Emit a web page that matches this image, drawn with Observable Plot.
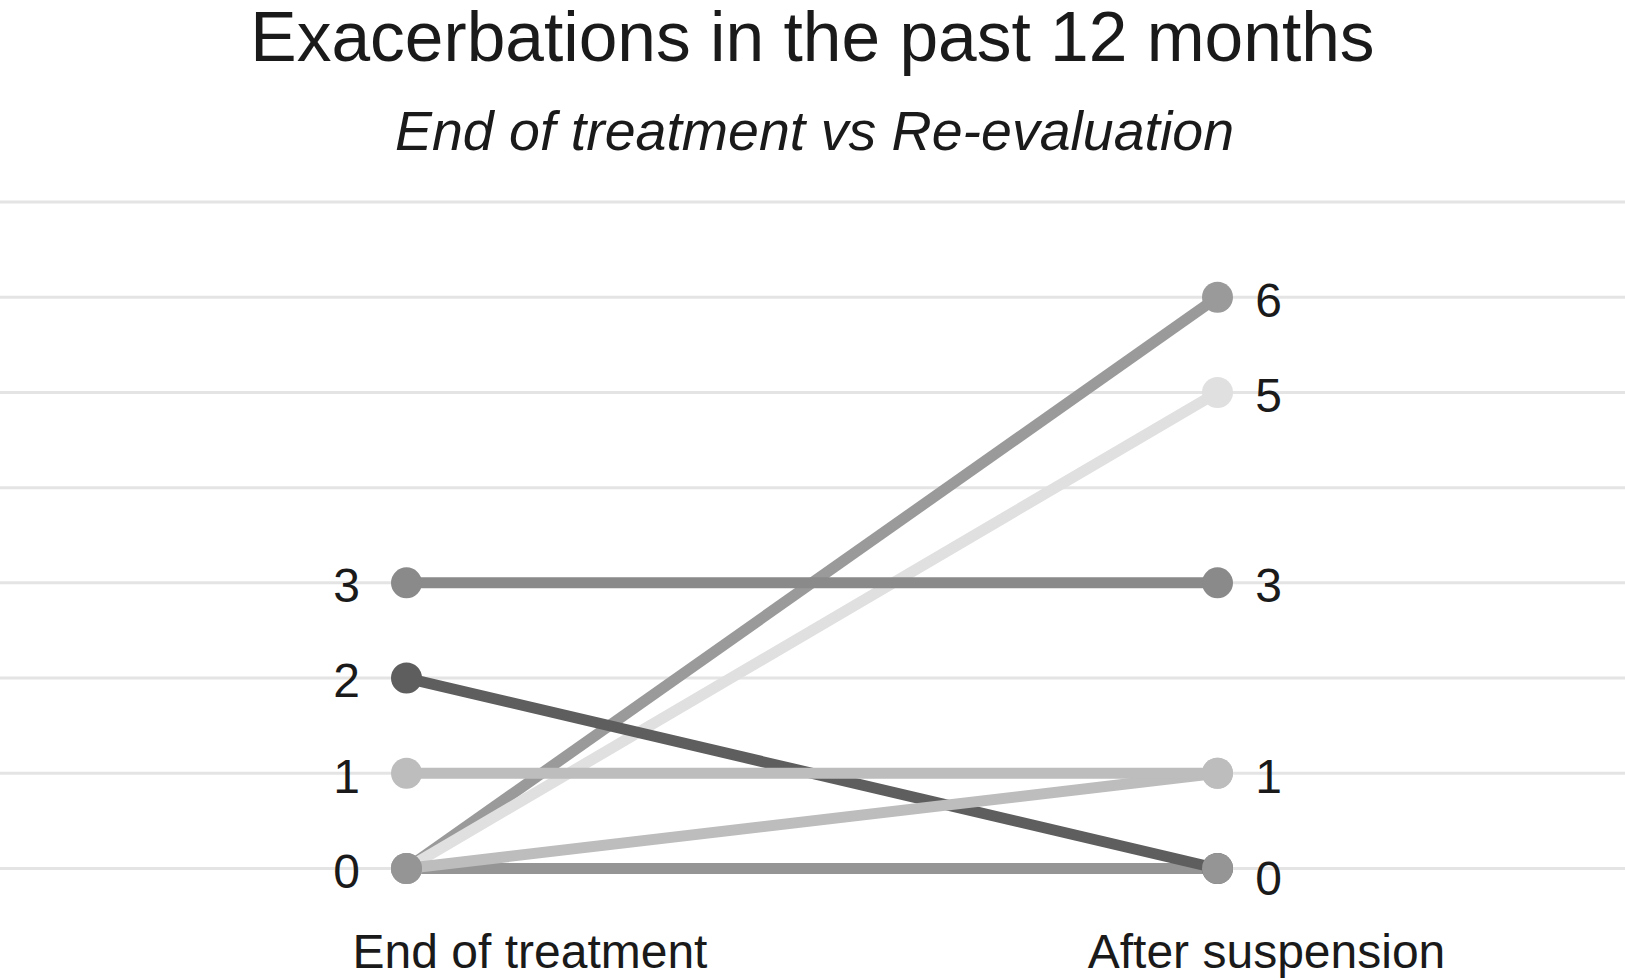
<!DOCTYPE html>
<html>
<head>
<meta charset="utf-8">
<script src="https://cdn.jsdelivr.net/npm/d3@7"></script>
<script src="https://cdn.jsdelivr.net/npm/@observablehq/plot@0.6"></script>
<style>
  html, body { margin: 0; padding: 0; background: #fff; }
  body { width: 1625px; height: 980px; overflow: hidden; font-family: "Liberation Sans", Arial, Helvetica, sans-serif; color: #1a1a1a; }
  #header { position: relative; height: 170px; width: 1625px; }
  #title { position: absolute; left: 0; width: 1625px; top: 3px; text-align: center; font-size: 69.5px; line-height: 1; }
  #subtitle { position: absolute; left: 2px; width: 1625px; top: 104px; text-align: center; font-size: 55.5px; line-height: 1; font-style: italic; }
  svg { display: block; }
</style>
</head>
<body>
<div id="header">
  <div id="title">Exacerbations in the past 12 months</div>
  <div id="subtitle">End of treatment vs Re-evaluation</div>
</div>
<div id="chart"></div>
<script>
// ---- data ----
const periods = ["End of treatment", "After suspension"];
const patients = ["P1", "P2", "P3", "P4", "P5", "P6", "P7"];
const endValues = [0, 0, 0, 2, 0, 1, 3];
const afterValues = [0, 6, 5, 0, 1, 1, 3];
const gridValues = [0, 1, 2, 3, 4, 5, 6, 7];

// ---- styles ----
const lineColors = ["#959595", "#9a9a9a", "#e0e0e0", "#5e5e5e", "#bdbdbd", "#bdbdbd", "#8a8a8a"];

const rows = patients.map((p, i) => ({patient: p, end: endValues[i], after: afterValues[i], color: lineColors[i]}));
const dotsLeft = rows.map(r => ({period: periods[0], value: r.end, color: r.color})).reverse();
const dotsRight = rows.map(r => ({period: periods[1], value: r.after, color: r.color})).reverse();
const leftLabels = Array.from(new Set(endValues));
const rightLabels = Array.from(new Set(afterValues));

const W = 1625, H = 810;
const chart = Plot.plot({
  width: W,
  height: H,
  marginLeft: 0, marginRight: 0, marginTop: 0, marginBottom: 0,
  style: {fontFamily: '"Liberation Sans", Arial, Helvetica, sans-serif', color: "#1a1a1a", background: "#fff"},
  x: {type: "point", domain: periods, range: [406, 1217], padding: 0, align: 0.5, axis: null},
  y: {domain: [0, 7], range: [698, 31.5], axis: null},
  color: {type: "identity"},
  marks: [
    Plot.ruleY(gridValues, {stroke: "#e4e4e4", strokeWidth: 3}),
    Plot.link(rows, {
      x1: () => periods[0], y1: "end",
      x2: () => periods[1], y2: "after",
      stroke: "color", strokeWidth: 11, strokeOpacity: 1
    }),
    Plot.dot(dotsLeft, {x: "period", y: "value", r: 15.5, fill: "color", stroke: "none"}),
    Plot.dot(dotsRight, {x: "period", y: "value", r: 15.5, fill: "color", stroke: "none"}),
    Plot.text(leftLabels, {x: () => periods[0], y: d => d, text: d => String(d), dx: -60, dy: 4, fontSize: 48, fill: "#1a1a1a"}),
    Plot.text(rightLabels.filter(d => d !== 0), {x: () => periods[1], y: d => d, text: d => String(d), dx: 51, dy: 4, fontSize: 48, fill: "#1a1a1a"}),
    Plot.text(rightLabels.filter(d => d === 0), {x: () => periods[1], y: d => d, text: d => String(d), dx: 51, dy: 11, fontSize: 48, fill: "#1a1a1a"}),
    Plot.text([periods[0]], {x: d => d, text: d => d, frameAnchor: "bottom", lineAnchor: "bottom", dy: -13, dx: 123.5, fontSize: 48, fill: "#1a1a1a"}),
    Plot.text([periods[1]], {x: d => d, text: d => d, frameAnchor: "bottom", lineAnchor: "bottom", dy: -13, dx: 49, fontSize: 48, fill: "#1a1a1a"})
  ]
});
document.getElementById("chart").appendChild(chart);
</script>
</body>
</html>
